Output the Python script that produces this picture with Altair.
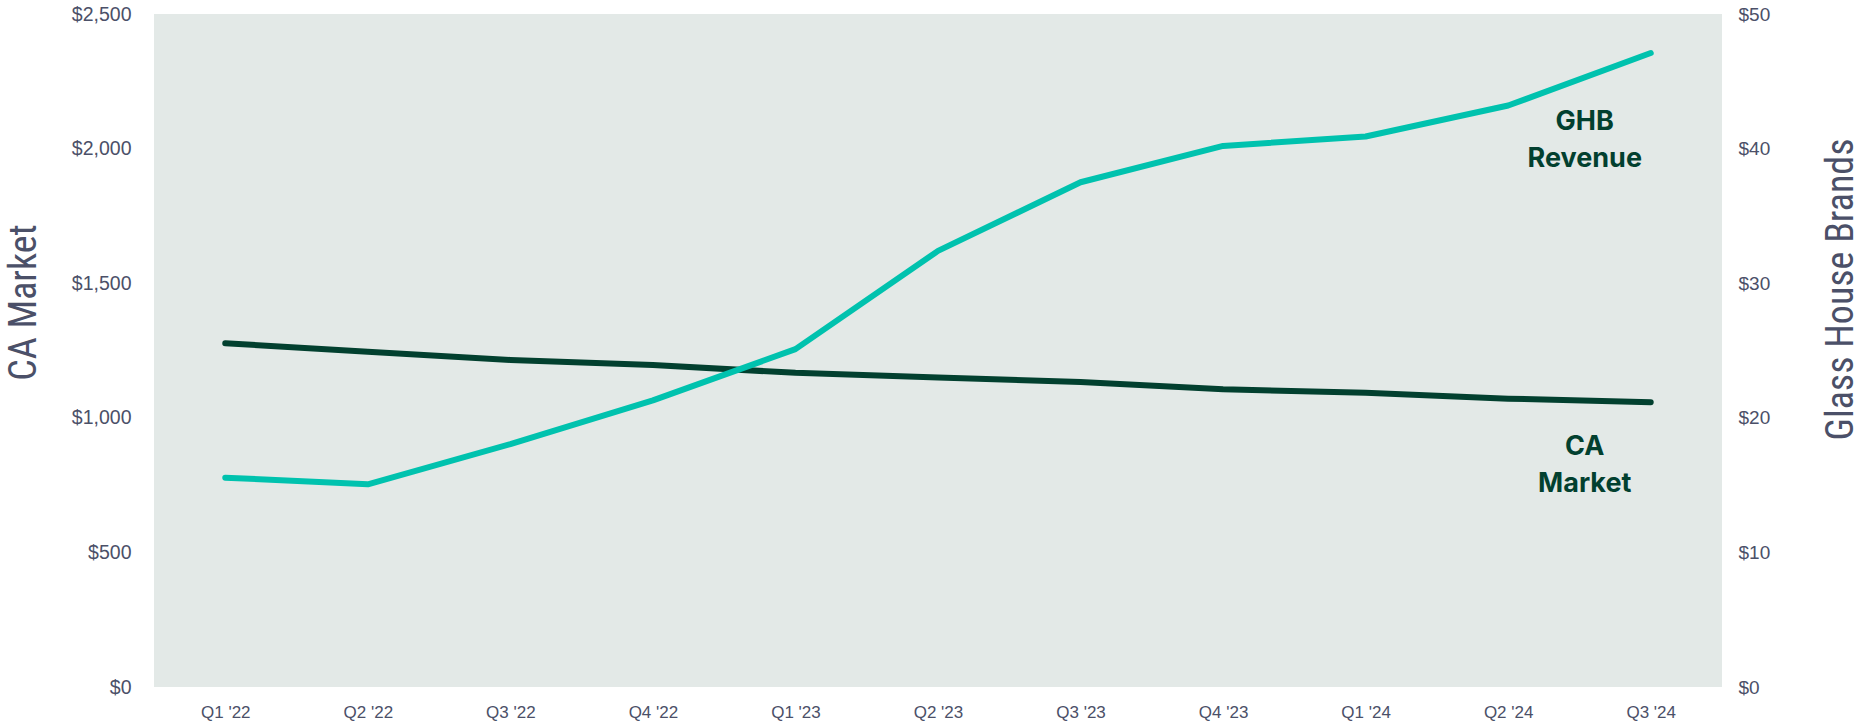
import altair as alt
import pandas as pd

quarters = ["Q1 '22", "Q2 '22", "Q3 '22", "Q4 '22", "Q1 '23", "Q2 '23",
            "Q3 '23", "Q4 '23", "Q1 '24", "Q2 '24", "Q3 '24"]
ca_market = [1277, 1245, 1215, 1196, 1167, 1150, 1133, 1106, 1093, 1071, 1058]
ghb_revenue = [15.55, 15.06, 18.05, 21.3, 25.1, 32.4, 37.5, 40.2, 40.9, 43.2, 47.1]

left_ticks = [0, 500, 1000, 1500, 2000, 2500]
right_ticks = [0, 10, 20, 30, 40, 50]

ca_label_quarter = ["Q3 '24"]
ca_label_value = [892]
ca_label_text = ["CA\nMarket"]
ghb_label_quarter = ["Q3 '24"]
ghb_label_value = [42.0]
ghb_label_text = ["GHB\nRevenue"]

DARK = "#02402F"
TEAL = "#00C2AE"
BG = "#E3E9E7"
AXIS_TXT = "#4B5068"
NARROW = "Liberation Sans Narrow, Arial Narrow, Roboto Condensed, Liberation Sans, sans-serif"
TICKFONT = "Liberation Sans, Arial, sans-serif"

df = pd.DataFrame({"quarter": quarters, "ca": ca_market, "ghb": ghb_revenue})
ca_lab = pd.DataFrame({"quarter": ca_label_quarter, "ca": ca_label_value, "text": ca_label_text})
ghb_lab = pd.DataFrame({"quarter": ghb_label_quarter, "ghb": ghb_label_value, "text": ghb_label_text})

x = alt.X("quarter:N", sort=quarters,
          scale=alt.Scale(type="point", padding=0.5),
          axis=alt.Axis(title=None, labelAngle=0, ticks=False, domain=False, grid=False,
                        labelFontSize=17, labelColor=AXIS_TXT, labelFont=TICKFONT,
                        labelPadding=17))

ca_scale = alt.Scale(domain=[0, 2500], nice=False, zero=True)
ghb_scale = alt.Scale(domain=[0, 50], nice=False, zero=True)

ca_axis = alt.Axis(orient="left", values=left_ticks, format="$,.0f", title="CA Market",
                   ticks=False, domain=False, grid=False,
                   labelFontSize=19.5, labelColor=AXIS_TXT, labelFont=TICKFONT, labelPadding=23,
                   titleFont=NARROW, titleFontSize=38, titleFontWeight="normal",
                   titleColor=AXIS_TXT, titleAngle=270, titleAlign="center",
                   titleBaseline="middle", titleX=-130, titleY=288)
ghb_axis = alt.Axis(orient="right", values=right_ticks, format="$,.0f", title="Glass House Brands",
                    ticks=False, domain=False, grid=False,
                    labelFontSize=19, labelColor=AXIS_TXT, labelFont=TICKFONT, labelPadding=16,
                    titleFont=NARROW, titleFontSize=38, titleFontWeight="normal",
                    titleColor=AXIS_TXT, titleAngle=270, titleAlign="center",
                    titleBaseline="middle", titleX=119, titleY=275)

ca_line = alt.Chart(df).mark_line(color=DARK, strokeWidth=6, strokeCap="round", strokeJoin="round").encode(
    x=x,
    y=alt.Y("ca:Q", scale=ca_scale, axis=ca_axis),
)
ca_text = alt.Chart(ca_lab).mark_text(
    lineBreak="\n", fontSize=27, fontWeight="bold", font="Inter", color=DARK,
    align="center", baseline="middle", lineHeight=37, dx=-66
).encode(
    x=x,
    y=alt.Y("ca:Q", scale=ca_scale, axis=ca_axis),
    text="text:N",
)

ghb_line = alt.Chart(df).mark_line(color=TEAL, strokeWidth=6, strokeCap="round", strokeJoin="round").encode(
    x=x,
    y=alt.Y("ghb:Q", scale=ghb_scale, axis=ghb_axis),
)
ghb_text = alt.Chart(ghb_lab).mark_text(
    lineBreak="\n", fontSize=27, fontWeight="bold", font="Inter", color=DARK,
    align="center", baseline="middle", lineHeight=37, dx=-66
).encode(
    x=x,
    y=alt.Y("ghb:Q", scale=ghb_scale, axis=ghb_axis),
    text="text:N",
)

chart = alt.layer(
    alt.layer(ca_line, ca_text),
    alt.layer(ghb_line, ghb_text),
).resolve_scale(y="independent").properties(
    width=1568, height=673,
    padding={"left": 154, "top": 14, "right": 146, "bottom": 37},
    autosize=alt.AutoSizeParams(type="none"),
    background="white",
).configure_view(fill=BG, strokeWidth=0)

chart.save("out.html", embed_options={"renderer": "svg", "actions": False})
